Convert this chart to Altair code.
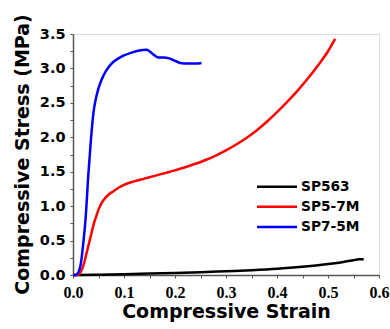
import altair as alt
import pandas as pd

series_names = ["SP563", "SP5-7M", "SP7-5M"]
series_colors = ["#000000", "#ff0000", "#0000ff"]

sp563_strain = [0.0, 0.05, 0.1, 0.15, 0.2, 0.25, 0.3, 0.35, 0.4, 0.45, 0.5, 0.53, 0.55, 0.56, 0.57]
sp563_stress = [0.0, 0.003, 0.01, 0.02, 0.03, 0.04, 0.055, 0.07, 0.09, 0.12, 0.16, 0.19, 0.215, 0.228, 0.23]

sp57_strain = [0.0, 0.01, 0.015, 0.02, 0.025, 0.03, 0.035, 0.04, 0.045, 0.05, 0.055, 0.06, 0.07,
               0.08, 0.09, 0.10, 0.12, 0.14, 0.16, 0.18, 0.20, 0.22, 0.24, 0.26, 0.28, 0.30,
               0.32, 0.34, 0.36, 0.38, 0.40, 0.42, 0.44, 0.46, 0.48, 0.50, 0.514]
sp57_stress = [0.0, 0.0, 0.04, 0.13, 0.27, 0.42, 0.57, 0.72, 0.84, 0.95, 1.03, 1.09, 1.17,
               1.22, 1.27, 1.31, 1.36, 1.40, 1.44, 1.48, 1.52, 1.565, 1.615, 1.67, 1.735, 1.81,
               1.895, 1.99, 2.10, 2.225, 2.365, 2.515, 2.675, 2.85, 3.04, 3.25, 3.43]

sp75_strain = [0.0, 0.005, 0.01, 0.015, 0.02, 0.025, 0.03, 0.035, 0.04, 0.046, 0.053, 0.06, 0.07,
               0.08, 0.09, 0.10, 0.115, 0.13, 0.144, 0.15, 0.158, 0.167, 0.178, 0.187, 0.197,
               0.21, 0.225, 0.24, 0.252]
sp75_stress = [0.0, 0.0, 0.03, 0.15, 0.45, 0.85, 1.45, 1.95, 2.35, 2.6, 2.78, 2.9, 3.02,
               3.1, 3.15, 3.19, 3.23, 3.26, 3.27, 3.25, 3.2, 3.16, 3.16, 3.15, 3.12,
               3.08, 3.07, 3.07, 3.08]

x_ticks = [round(0.05 * i, 2) for i in range(13)]
y_ticks = [0.25 * i for i in range(15)]

rows = []
for name, xs, ys in [(series_names[0], sp563_strain, sp563_stress),
                     (series_names[1], sp57_strain, sp57_stress),
                     (series_names[2], sp75_strain, sp75_stress)]:
    for i, (a, b) in enumerate(zip(xs, ys)):
        rows.append({"series": name, "strain": a, "stress": b, "order": i})
df = pd.DataFrame(rows)

legend_df = pd.DataFrame({"series": series_names, "rank": list(range(len(series_names)))})

color_scale = alt.Scale(domain=series_names, range=series_colors)
FONT = "DejaVu Sans"

lines = alt.Chart(df).mark_line(strokeWidth=2.5, interpolate="monotone").encode(
    x=alt.X("strain:Q", scale=alt.Scale(domain=[0, 0.6], nice=False),
            axis=alt.Axis(title="Compressive Strain", values=x_ticks,
                          labelExpr="round(datum.value*100) % 10 == 0 ? format(datum.value, '.1f') : ''",
                          labelFont="Liberation Serif", labelFontSize=16, labelFontWeight="bold",
                          labelColor="#000", labelPadding=6, labelFlush=False,
                          tickSize=3, tickColor="#555", domainColor="#555", domainWidth=1.5,
                          titleFont=FONT, titleFontSize=19, titleFontWeight="bold",
                          titleColor="#000", titleY=42, titleBaseline="alphabetic",
                          grid=False)),
    y=alt.Y("stress:Q", scale=alt.Scale(domain=[0, 3.5], nice=False),
            axis=alt.Axis(title="Compressive Stress (MPa)", values=y_ticks,
                          labelExpr="round(datum.value*100) % 50 == 0 ? format(datum.value, '.1f') : ''",
                          labelFont=FONT, labelFontSize=14.5, labelFontWeight="bold",
                          labelColor="#000", labelPadding=5, labelFlush=False,
                          tickSize=3, tickColor="#555", domainColor="#555", domainWidth=1.5,
                          titleFont=FONT, titleFontSize=19, titleFontWeight="bold",
                          titleColor="#000", titleX=-51, titleY=120, titleAngle=270,
                          titleAlign="center", titleBaseline="middle",
                          grid=False)),
    color=alt.Color("series:N", scale=color_scale, legend=None),
    order="order:Q",
)

legend_y = alt.Y("rank:Q", scale=alt.Scale(domain=[0, 2], range=[152.7, 193]), axis=None)

legend_lines = alt.Chart(legend_df).mark_rule(strokeWidth=2.5).encode(
    x=alt.value(184), x2=alt.value(224),
    y=legend_y,
    color=alt.Color("series:N", scale=color_scale, legend=None),
)

legend_text = alt.Chart(legend_df).mark_text(
    align="left", baseline="middle", font=FONT, fontSize=13.75, fontWeight="bold", color="#000"
).encode(
    x=alt.value(228),
    y=legend_y,
    text="series:N",
)

chart = alt.layer(lines, legend_lines, legend_text).resolve_scale(
    y="independent"
).properties(
    width=306, height=241,
    autosize=alt.AutoSizeParams(type="none"),
    padding={"left": 73, "top": 34, "right": 11, "bottom": 54},
).configure_view(stroke="#555", strokeWidth=1.5).configure(background="white")

chart.save("out.html", embed_options={"renderer": "svg", "actions": False})
